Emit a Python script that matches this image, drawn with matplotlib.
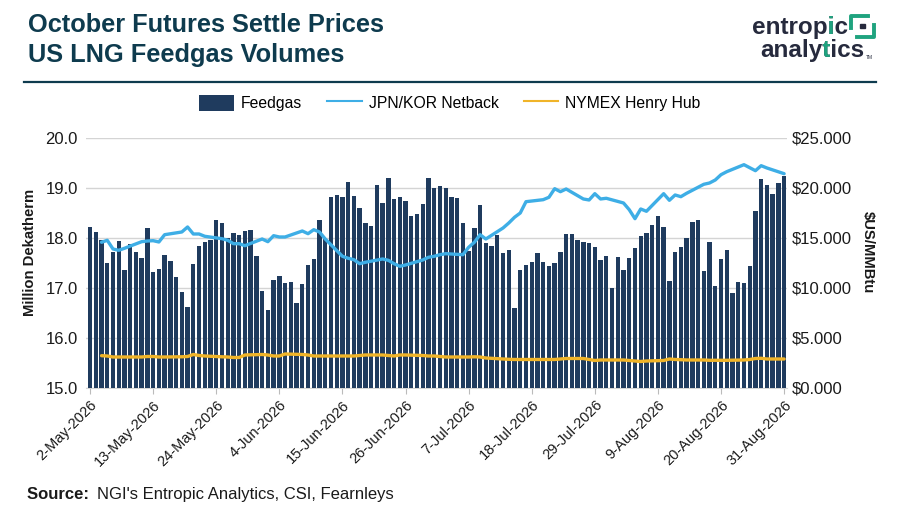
import numpy as np
import pandas as pd
import matplotlib
matplotlib.use("Agg")
import matplotlib.pyplot as plt
import matplotlib.dates as mdates
from matplotlib.patches import Patch, Rectangle
from matplotlib.lines import Line2D
from matplotlib.transforms import Bbox

plt.rcParams['font.family'] = ['Liberation Sans', 'DejaVu Sans']

# ---------------- data ----------------
feed_dates = pd.date_range("2026-05-02", "2026-08-31", freq="D")
feedgas = [
    18.22, 18.11, 17.95, 17.50, 17.71, 17.93, 17.36, 17.87, 17.71, 17.59,
    18.19, 17.31, 17.38, 17.66, 17.53, 17.22, 16.91, 16.62, 17.47, 17.84,
    17.91, 17.95, 18.35, 18.30, 18.00, 18.09, 18.05, 18.14, 18.15, 17.63,
    16.93, 16.55, 17.15, 17.24, 17.09, 17.12, 16.70, 17.07, 17.45, 17.57,
    18.35, 17.97, 18.82, 18.86, 18.82, 19.12, 18.83, 18.59, 18.29, 18.23,
    19.06, 18.70, 19.20, 18.77, 18.81, 18.73, 18.44, 18.47, 18.68, 19.19,
    19.00, 19.04, 18.99, 18.81, 18.79, 18.29, 17.74, 18.20, 18.66, 17.89,
    17.83, 18.06, 17.69, 17.75, 16.59, 17.36, 17.46, 17.51, 17.69, 17.52,
    17.43, 17.50, 17.72, 18.07, 18.07, 17.96, 17.92, 17.89, 17.81, 17.56,
    17.63, 17.00, 17.61, 17.36, 17.59, 17.80, 18.03, 18.09, 18.26, 18.43,
    18.22, 17.13, 17.71, 17.82, 18.00, 18.31, 18.36, 17.33, 17.91, 17.03,
    17.57, 17.76, 16.89, 17.11, 17.10, 17.44, 18.53, 19.18, 19.06, 18.87,
    19.09, 19.23,
]

price_dates = pd.bdate_range("2026-05-04", "2026-08-31")
jkm_netback = [
    14.57, 14.77, 13.90, 13.77, 13.97,
    14.63, 14.70, 14.73, 14.60, 15.33,
    15.60, 16.10, 15.40, 15.40, 15.17,
    14.93, 14.77, 14.43, 14.43, 14.23,
    14.90, 14.63, 15.23, 15.10, 15.10,
    15.70, 15.43, 15.83, 15.60, 14.90,
    13.17, 12.97, 12.83, 12.43, 12.57,
    12.90, 12.77, 12.43, 12.17, 12.30,
    12.80, 13.07, 13.17, 13.33, 13.43,
    13.33, 14.07, 14.57, 15.33, 14.90,
    16.00, 16.50, 17.07, 17.50, 18.63,
    18.83, 19.07, 19.93, 19.63, 19.90,
    18.90, 18.80, 19.43, 18.90, 18.97,
    18.50, 17.83, 16.93, 17.90, 17.67,
    19.43, 18.77, 19.30, 19.13, 19.47,
    20.37, 20.50, 20.80, 21.33, 21.63,
    22.33, 22.03, 21.73, 22.23, 22.00,
    21.43,
]
henry_hub = [
    3.23, 3.20, 3.10, 3.10, 3.10,
    3.10, 3.15, 3.15, 3.10, 3.10,
    3.12, 3.15, 3.35, 3.25, 3.20,
    3.12, 3.10, 3.05, 3.05, 3.30,
    3.35, 3.30, 3.20, 3.20, 3.40,
    3.35, 3.30, 3.20, 3.20, 3.20,
    3.20, 3.20, 3.20, 3.25, 3.30,
    3.30, 3.25, 3.20, 3.30, 3.30,
    3.25, 3.20, 3.20, 3.15, 3.10,
    3.10, 3.10, 3.12, 3.10, 3.00,
    2.90, 2.87, 2.85, 2.85, 2.85,
    2.85, 2.85, 2.85, 2.90, 2.95,
    2.95, 2.85, 2.75, 2.80, 2.80,
    2.80, 2.75, 2.70, 2.65, 2.70,
    2.75, 2.90, 2.85, 2.83, 2.80,
    2.80, 2.77, 2.77, 2.77, 2.77,
    2.80, 2.85, 2.95, 2.97, 2.90,
    2.90,
]

tick_dates = pd.date_range("2026-05-02", "2026-08-31", freq="11D")
left_ticks = [15.0, 16.0, 17.0, 18.0, 19.0, 20.0]
right_ticks = [0, 5, 10, 15, 20, 25]

# ---------------- colours ----------------
NAVY = "#1f3b5e"
BLUE = "#3eaee6"
GOLD = "#f0b429"
TITLE = "#0e3b4e"
GRID = "#d4d4d4"
TXT = "#1a1a1a"

fig = plt.figure(figsize=(9, 5.12), dpi=100)
ax = fig.add_axes([0.0956, 0.2422, 0.7785, 0.4883])
ax2 = ax.twinx()
ax.set_zorder(1)
ax2.set_zorder(2)
ax.patch.set_visible(False)

ax.bar(feed_dates, feedgas, width=0.76, color=NAVY, edgecolor="none", zorder=3)
ax.set_ylim(15.0, 20.0)
ax.set_yticks(left_ticks)
ax.set_yticklabels([f"{v:.1f}" for v in left_ticks], fontsize=12)
ax.grid(axis="y", color=GRID, linewidth=1.0, zorder=0)
ax.set_axisbelow(True)

ax2.plot(price_dates, jkm_netback, color=BLUE, linewidth=2.4, solid_capstyle="round")
ax2.plot(price_dates, henry_hub, color=GOLD, linewidth=2.4, solid_capstyle="round")
ax2.set_ylim(0, 25)
ax2.set_yticks(right_ticks)
ax2.set_yticklabels([f"${v:.3f}" for v in right_ticks], fontsize=12)

x0 = mdates.date2num(pd.Timestamp("2026-05-02")) - 0.7
x1 = mdates.date2num(pd.Timestamp("2026-08-31")) + 0.45
ax.set_xlim(x0, x1)
ax.set_xticks(tick_dates)
ax.set_xticklabels([d.strftime("%-d-%b-%Y") for d in tick_dates], rotation=45,
                   ha="right", rotation_mode="anchor", fontsize=10.5)

for a in (ax, ax2):
    for s in a.spines.values():
        s.set_visible(False)
ax.spines["bottom"].set_visible(True)
ax.spines["bottom"].set_color(GRID)
ax.tick_params(axis="y", length=0, pad=6, labelcolor=TXT)
ax2.tick_params(axis="y", length=0, pad=4, labelcolor=TXT)
ax.tick_params(axis="x", length=4, color="#bbbbbb", pad=3, labelcolor=TXT)

ax.set_ylabel("Million Dekatherm", fontsize=10.7, fontweight="bold", color=TXT,
              va="center")
ax.yaxis.set_label_coords(-0.08, 0.542)
ax2.set_ylabel("$US/MMBtu", fontsize=10.7, fontweight="bold", rotation=270,
               color=TXT, va="center")
ax2.yaxis.set_label_coords(1.116, 0.544)

# legend
handles = [Patch(facecolor=NAVY, edgecolor="none"),
           Line2D([0], [0], color=BLUE, linewidth=1.5),
           Line2D([0], [0], color=GOLD, linewidth=1.5)]
fig.legend(handles, ["Feedgas", "JPN/KOR Netback", "NYMEX Henry Hub"],
           loc="center", bbox_to_anchor=(0.5, 0.799), ncol=3, frameon=False,
           fontsize=11.3, handlelength=2.2, handleheight=1.2, columnspacing=1.6,
           handletextpad=0.45)

# title
fig.text(0.031, 0.938, "October Futures Settle Prices", fontsize=18.3,
         fontweight="bold", color=TITLE, va="baseline")
fig.text(0.031, 0.8795, "US LNG Feedgas Volumes", fontsize=18.3,
         fontweight="bold", color=TITLE, va="baseline")
fig.add_artist(Line2D([0.027, 0.973], [0.840, 0.840], color=TITLE, linewidth=1.6,
                      transform=fig.transFigure))

renderer = fig.canvas.get_renderer()
LOGO = "#262a3d"
LG = "#1fa37f"
logo_kw = dict(fontsize=17.5, fontweight="bold", va="baseline")


def logo_word(x, y, word, idx):
    """Word in dark colour, with letter word[idx] recoloured green via clipping."""
    fig.text(x, y, word, color=LOGO, **logo_kw)
    pre = fig.text(x, y, word[:idx], alpha=0, **logo_kw)
    upto = fig.text(x, y, word[:idx + 1], alpha=0, **logo_kw)
    b0 = pre.get_window_extent(renderer)
    b1 = upto.get_window_extent(renderer)
    g = fig.text(x, y, word, color=LG, **logo_kw)
    g.set_clip_box(Bbox.from_extents(b0.x1 + 0.3, 0, b1.x1 + 0.3, fig.bbox.height))
    g.set_clip_on(True)


logo_word(0.836, 0.934, "entropic", 6)
logo_word(0.8445, 0.888, "analytics", 5)
# green bracket mark
fig.add_artist(Line2D([0.9456, 0.9456, 0.9644], [0.946, 0.968, 0.968], color=LG,
                      linewidth=2.8, transform=fig.transFigure))
fig.add_artist(Line2D([0.971, 0.971, 0.952], [0.951, 0.928, 0.928], color=LG,
                      linewidth=2.8, transform=fig.transFigure))
fig.add_artist(Rectangle((0.9555, 0.9445), 0.0055, 0.0095, color=LOGO,
                         transform=fig.transFigure))
fig.text(0.962, 0.884, "TM", fontsize=3.5, color=LOGO)

# source
src1 = fig.text(0.030, 0.025, "Source: ", fontsize=12, fontweight="bold", color=TXT)
bb = src1.get_window_extent(renderer)
xs = fig.transFigure.inverted().transform((bb.x1, bb.y0))[0]
fig.text(xs + 0.004, 0.025, "NGI's Entropic Analytics, CSI, Fearnleys", fontsize=12,
         color=TXT)

fig.savefig("out.png", dpi=100)
